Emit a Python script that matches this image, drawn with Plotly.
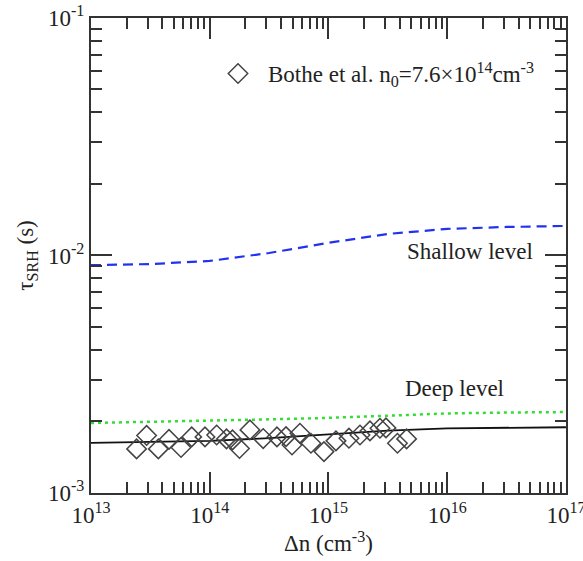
import plotly.graph_objects as go

# ---- data ----
exp_dn = [2.42e13, 2.94e13, 3.69e13, 4.54e13, 5.73e13, 7.05e13, 9.12e13, 1.144e14, 1.384e14,
          1.555e14, 1.78e14, 2.18e14, 2.82e14, 3.68e14, 4.39e14, 4.93e14, 5.75e14, 7.12e14,
          9.16e14, 1.156e15, 1.488e15, 1.842e15, 2.236e15, 2.715e15, 3.05e15, 3.81e15, 4.55e15]
exp_tau = [1.532e-3, 1.746e-3, 1.532e-3, 1.680e-3, 1.554e-3, 1.721e-3, 1.721e-3, 1.754e-3, 1.688e-3,
           1.672e-3, 1.539e-3, 1.842e-3, 1.693e-3, 1.721e-3, 1.726e-3, 1.592e-3, 1.783e-3, 1.619e-3,
           1.492e-3, 1.656e-3, 1.700e-3, 1.754e-3, 1.824e-3, 1.872e-3, 1.878e-3, 1.619e-3, 1.688e-3]

model_dn = [1e13, 3.16e13, 1e14, 3.16e14, 1e15, 3.16e15, 1e16, 3.16e16, 1e17]
tau_total = [1.625e-3, 1.635e-3, 1.655e-3, 1.70e-3, 1.76e-3, 1.83e-3, 1.87e-3, 1.885e-3, 1.89e-3]
tau_deep = [1.97e-3, 1.99e-3, 2.02e-3, 2.04e-3, 2.07e-3, 2.11e-3, 2.16e-3, 2.18e-3, 2.19e-3]
tau_shallow = [9.1e-3, 9.2e-3, 9.48e-3, 1.024e-2, 1.13e-2, 1.232e-2, 1.294e-2, 1.318e-2, 1.331e-2]

x_major = [1e13, 1e14, 1e15, 1e16, 1e17]
x_major_text = ["10<sup>13</sup>", "10<sup>14</sup>", "10<sup>15</sup>", "10<sup>16</sup>", "10<sup>17</sup>"]
y_major = [1e-3, 1e-2, 1e-1]
y_major_text = ["10<sup>-3</sup>", "10<sup>-2</sup>", "10<sup>-1</sup>"]
x_minor = [m * 10**e for e in range(13, 17) for m in range(2, 10)]
y_minor = [m * 10**e for e in range(-3, -1) for m in range(2, 10)]

FONT = "Liberation Serif"
AX = "#333333"
FS = 23

fig = go.Figure()
fig.add_trace(go.Scatter(x=model_dn, y=tau_shallow, mode="lines", showlegend=False,
                         line=dict(color="#2233ee", width=2.2, dash="10px,6px")))
fig.add_trace(go.Scatter(x=model_dn, y=tau_deep, mode="lines", showlegend=False,
                         line=dict(color="#33dd33", width=2.5, dash="3px,4px")))
fig.add_trace(go.Scatter(x=model_dn, y=tau_total, mode="lines", showlegend=False,
                         line=dict(color="#111111", width=1.8)))
fig.add_trace(go.Scatter(x=exp_dn, y=exp_tau, mode="markers",
                         name="Bothe et al. n<sub>0</sub>=7.6×10<sup>14</sup>cm<sup>-3</sup>",
                         marker=dict(symbol="diamond-open", size=15, color="#444444",
                                     line=dict(width=1.5, color="#444444"))))

axis_common = dict(type="log", showgrid=False, zeroline=False, showline=True, linecolor=AX,
                   linewidth=2, ticks="inside", ticklen=21, tickwidth=2, tickcolor=AX,
                   mirror="allticks", ticklabeloverflow="allow", automargin=False,
                   tickfont=dict(family=FONT, size=FS, color="#222"))

fig.update_xaxes(**axis_common, range=[13, 17.0005], tickmode="array", tickvals=x_major,
                 ticktext=x_major_text,
                 minor=dict(tickmode="array", tickvals=x_minor, ticks="inside", ticklen=11,
                            tickwidth=2, tickcolor=AX),
                 title=dict(text="Δn (cm<sup>-3</sup>)", font=dict(family=FONT, size=FS, color="#222"),
                            standoff=4))
fig.update_yaxes(**axis_common, range=[-3.0005, -1], tickmode="array", tickvals=y_major,
                 ticktext=y_major_text,
                 minor=dict(tickmode="array", tickvals=y_minor, ticks="inside", ticklen=11,
                            tickwidth=2, tickcolor=AX),
                 title=dict(text="τ<sub>SRH</sub> (s)", font=dict(family=FONT, size=FS, color="#222"),
                            standoff=8))

fig.add_annotation(text="Shallow level", xref="paper", yref="paper",
                   x=(470 - 91) / 475, y=(493 - 251) / 475, showarrow=False,
                   xanchor="center", yanchor="middle",
                   font=dict(family=FONT, size=FS, color="#222"))
fig.add_annotation(text="Deep level", xref="paper", yref="paper",
                   x=(454 - 91) / 475, y=(493 - 388) / 475, showarrow=False,
                   xanchor="center", yanchor="middle",
                   font=dict(family=FONT, size=FS, color="#222"))

fig.update_layout(width=583, height=561, margin=dict(l=91, r=17, t=18, b=68),
                  plot_bgcolor="white", paper_bgcolor="white",
                  legend=dict(x=(208 - 91) / 475, y=(493 - 52) / 475, xanchor="left", yanchor="top",
                              itemwidth=50,
                              bgcolor="rgba(0,0,0,0)", font=dict(family=FONT, size=FS, color="#222")))

fig.write_html("out.html")
